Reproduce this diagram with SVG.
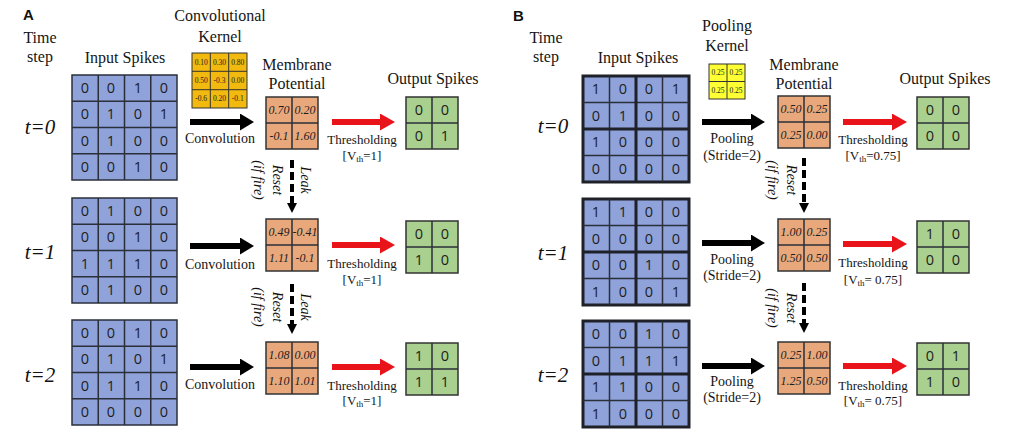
<svg xmlns="http://www.w3.org/2000/svg" width="1011" height="437" viewBox="0 0 1011 437">
<style>
.lbl{font-family:"Liberation Serif","Times New Roman","DejaVu Serif","Noto Serif",serif;font-size:16px;text-anchor:middle;fill:#151515}
.sm{font-size:14px}
.th{font-size:13px}
.hd{font-family:"Liberation Sans",Arial,sans-serif;font-weight:bold;font-size:15px;fill:#111}
.tl{font-family:"Liberation Serif","Times New Roman","DejaVu Serif","Noto Serif",serif;font-style:italic;font-size:21px;text-anchor:middle;fill:#111}
.rot{font-family:"Liberation Serif","Times New Roman","DejaVu Serif","Noto Serif",serif;font-style:italic;font-size:14px;text-anchor:middle;fill:#111}
.dig{font-family:"Open Sans","DejaVu Sans",sans-serif;font-size:14.5px;text-anchor:middle;fill:#1e1e1e}
.mv{font-family:"Liberation Serif","Times New Roman","DejaVu Serif","Noto Serif",serif;font-style:italic;font-size:12px;text-anchor:middle;fill:#1e1e1e}
.kv{font-family:"Liberation Serif","Times New Roman","DejaVu Serif","Noto Serif",serif;font-size:7.5px;text-anchor:middle;fill:#1e1e1e}
.inp{fill:#8fa3da;stroke:#2a2f3a;stroke-width:1.5}
.inpB{fill:#8fa3da;stroke:#1e2128;stroke-width:3}
.mem{fill:#e8a87c;stroke:#333;stroke-width:1.5}
.out{fill:#a9d08e;stroke:#333;stroke-width:1.5}
.kA{fill:#f2b90f;stroke:#333;stroke-width:1}
.kB{fill:#ffff33;stroke:#333;stroke-width:1}
.gl{fill:none;stroke:#2a2f3a;stroke-width:1.5}
.glt{fill:none;stroke:#333;stroke-width:1}
.glk{fill:none;stroke:#1e2128;stroke-width:3}
.blk{stroke:#000;stroke-width:6;fill:none}
.red{stroke:#e8141a;stroke-width:6;fill:none}
.dash{stroke:#000;stroke-width:4;stroke-dasharray:8 4;fill:none}
</style>
<defs>
<marker id="hb" markerUnits="userSpaceOnUse" markerWidth="15" markerHeight="18" refX="0" refY="8.5" orient="auto"><path d="M0,0 L14,8.5 L0,17 Z" fill="#000"/></marker>
<marker id="hr" markerUnits="userSpaceOnUse" markerWidth="16" markerHeight="18" refX="0" refY="8.5" orient="auto"><path d="M0,0 L15,8.5 L0,17 Z" fill="#e8141a"/></marker>
<marker id="hd" markerUnits="userSpaceOnUse" markerWidth="11" markerHeight="11" refX="0" refY="5" orient="auto"><path d="M0,0 L10,5 L0,10 Z" fill="#000"/></marker>
</defs>
<rect width="1011" height="437" fill="#fff"/>

<!-- Panel A labels -->
<g id="labelsA">
<text class="hd" x="23" y="20">A</text>
<text class="lbl" x="40" y="43">Time</text>
<text class="lbl" x="40" y="62">step</text>
<text class="lbl" x="125" y="63">Input Spikes</text>
<text class="lbl" x="220" y="21">Convolutional</text>
<text class="lbl" x="220" y="42">Kernel</text>
<text class="lbl" x="297" y="70">Membrane</text>
<text class="lbl" x="297" y="89">Potential</text>
<text class="lbl" x="433" y="84">Output Spikes</text>
<text class="tl" x="40" y="134">t=0</text>
<text class="tl" x="40" y="259">t=1</text>
<text class="tl" x="40" y="382">t=2</text>
</g>

<g id="kernelA">
<rect class="kA" x="192" y="53" width="55" height="55"/>
<path class="glt" d="M210.3,53V108M228.7,53V108M192,71.3H247M192,89.7H247"/>
<text class="kv" x="201.2" y="64.7">0.10</text><text class="kv" x="219.5" y="64.7">0.30</text><text class="kv" x="237.8" y="64.7">0.80</text>
<text class="kv" x="201.2" y="83">0.50</text><text class="kv" x="219.5" y="83">-0.3</text><text class="kv" x="237.8" y="83">0.00</text>
<text class="kv" x="201.2" y="101.3">-0.6</text><text class="kv" x="219.5" y="101.3">0.20</text><text class="kv" x="237.8" y="101.3">-0.1</text>
</g>

<!-- Panel A inputs -->
<g id="inputA0">
<rect class="inp" x="72" y="75" width="105" height="105"/>
<path class="gl" d="M98.25,75V180M124.5,75V180M150.75,75V180M72,101.25H177M72,127.5H177M72,153.75H177"/>
<text class="dig" x="85" y="93">0</text><text class="dig" x="111" y="93">0</text><text class="dig" x="138" y="93">1</text><text class="dig" x="164" y="93">0</text>
<text class="dig" x="85" y="119">0</text><text class="dig" x="111" y="119">1</text><text class="dig" x="138" y="119">0</text><text class="dig" x="164" y="119">1</text>
<text class="dig" x="85" y="146">0</text><text class="dig" x="111" y="146">1</text><text class="dig" x="138" y="146">0</text><text class="dig" x="164" y="146">0</text>
<text class="dig" x="85" y="172">0</text><text class="dig" x="111" y="172">0</text><text class="dig" x="138" y="172">1</text><text class="dig" x="164" y="172">0</text>
</g>
<g id="inputA1">
<rect class="inp" x="72" y="198" width="105" height="105"/>
<path class="gl" d="M98.25,198V303M124.5,198V303M150.75,198V303M72,224.25H177M72,250.5H177M72,276.75H177"/>
<text class="dig" x="85" y="216">0</text><text class="dig" x="111" y="216">1</text><text class="dig" x="138" y="216">0</text><text class="dig" x="164" y="216">0</text>
<text class="dig" x="85" y="242">0</text><text class="dig" x="111" y="242">0</text><text class="dig" x="138" y="242">1</text><text class="dig" x="164" y="242">0</text>
<text class="dig" x="85" y="269">1</text><text class="dig" x="111" y="269">1</text><text class="dig" x="138" y="269">1</text><text class="dig" x="164" y="269">0</text>
<text class="dig" x="85" y="295">0</text><text class="dig" x="111" y="295">1</text><text class="dig" x="138" y="295">0</text><text class="dig" x="164" y="295">0</text>
</g>
<g id="inputA2">
<rect class="inp" x="72" y="320" width="105" height="105"/>
<path class="gl" d="M98.25,320V425M124.5,320V425M150.75,320V425M72,346.25H177M72,372.5H177M72,398.75H177"/>
<text class="dig" x="85" y="338">0</text><text class="dig" x="111" y="338">0</text><text class="dig" x="138" y="338">1</text><text class="dig" x="164" y="338">0</text>
<text class="dig" x="85" y="364">0</text><text class="dig" x="111" y="364">1</text><text class="dig" x="138" y="364">0</text><text class="dig" x="164" y="364">1</text>
<text class="dig" x="85" y="391">0</text><text class="dig" x="111" y="391">1</text><text class="dig" x="138" y="391">1</text><text class="dig" x="164" y="391">0</text>
<text class="dig" x="85" y="417">0</text><text class="dig" x="111" y="417">0</text><text class="dig" x="138" y="417">0</text><text class="dig" x="164" y="417">0</text>
</g>

<!-- Panel A membrane -->
<g id="memA0">
<rect class="mem" x="266" y="97" width="52" height="52"/>
<path class="gl" d="M292,97V149M266,123H318"/>
<text class="mv" x="279" y="114">0.70</text><text class="mv" x="305" y="114">0.20</text>
<text class="mv" x="279" y="140">-0.1</text><text class="mv" x="305" y="140">1.60</text>
</g>
<g id="memA1">
<rect class="mem" x="266" y="219" width="52" height="52"/>
<path class="gl" d="M292,219V271M266,245H318"/>
<text class="mv" x="279" y="236">0.49</text><text class="mv" x="305" y="236">-0.41</text>
<text class="mv" x="279" y="262">1.11</text><text class="mv" x="305" y="262">-0.1</text>
</g>
<g id="memA2">
<rect class="mem" x="266" y="342" width="52" height="52"/>
<path class="gl" d="M292,342V394M266,368H318"/>
<text class="mv" x="279" y="359">1.08</text><text class="mv" x="305" y="359">0.00</text>
<text class="mv" x="279" y="385">1.10</text><text class="mv" x="305" y="385">1.01</text>
</g>

<!-- Panel A output -->
<g id="outA0">
<rect class="out" x="406" y="97" width="52" height="52"/>
<path class="gl" d="M432,97V149M406,123H458"/>
<text class="dig" x="419" y="115">0</text><text class="dig" x="445" y="115">0</text>
<text class="dig" x="419" y="141">0</text><text class="dig" x="445" y="141">1</text>
</g>
<g id="outA1">
<rect class="out" x="406" y="221" width="52" height="52"/>
<path class="gl" d="M432,221V273M406,247H458"/>
<text class="dig" x="419" y="239">0</text><text class="dig" x="445" y="239">0</text>
<text class="dig" x="419" y="265">1</text><text class="dig" x="445" y="265">0</text>
</g>
<g id="outA2">
<rect class="out" x="406" y="343" width="52" height="52"/>
<path class="gl" d="M432,343V395M406,369H458"/>
<text class="dig" x="419" y="361">1</text><text class="dig" x="445" y="361">0</text>
<text class="dig" x="419" y="387">1</text><text class="dig" x="445" y="387">1</text>
</g>

<!-- Panel B labels -->
<g id="labelsB">
<text class="hd" x="513" y="21">B</text>
<text class="lbl" x="546" y="43">Time</text>
<text class="lbl" x="546" y="62">step</text>
<text class="lbl" x="638" y="63">Input Spikes</text>
<text class="lbl" x="727" y="31">Pooling</text>
<text class="lbl" x="727" y="51">Kernel</text>
<text class="lbl" x="804" y="70">Membrane</text>
<text class="lbl" x="804" y="89">Potential</text>
<text class="lbl" x="945" y="84">Output Spikes</text>
<text class="tl" x="553" y="133">t=0</text>
<text class="tl" x="553" y="260">t=1</text>
<text class="tl" x="553" y="382">t=2</text>
</g>

<g id="kernelB">
<rect class="kB" x="709" y="64" width="36" height="35"/>
<path class="glt" d="M727,64V99M709,81.5H745"/>
<text class="kv" x="718" y="75.3">0.25</text><text class="kv" x="736" y="75.3">0.25</text>
<text class="kv" x="718" y="92.8">0.25</text><text class="kv" x="736" y="92.8">0.25</text>
</g>

<!-- Panel B inputs -->
<g id="inputB0">
<rect class="inpB" x="583" y="76" width="106" height="106"/>
<path class="gl" d="M609.5,76V182M662.5,76V182M583,102.5H689M583,155.5H689"/>
<path class="glk" d="M636,76V182M583,129H689"/>
<text class="dig" x="596" y="94">1</text><text class="dig" x="623" y="94">0</text><text class="dig" x="649" y="94">0</text><text class="dig" x="676" y="94">1</text>
<text class="dig" x="596" y="121">0</text><text class="dig" x="623" y="121">1</text><text class="dig" x="649" y="121">0</text><text class="dig" x="676" y="121">0</text>
<text class="dig" x="596" y="147">1</text><text class="dig" x="623" y="147">0</text><text class="dig" x="649" y="147">0</text><text class="dig" x="676" y="147">0</text>
<text class="dig" x="596" y="174">0</text><text class="dig" x="623" y="174">0</text><text class="dig" x="649" y="174">0</text><text class="dig" x="676" y="174">0</text>
</g>
<g id="inputB1">
<rect class="inpB" x="583" y="199" width="106" height="106"/>
<path class="gl" d="M609.5,199V305M662.5,199V305M583,225.5H689M583,278.5H689"/>
<path class="glk" d="M636,199V305M583,252H689"/>
<text class="dig" x="596" y="217">1</text><text class="dig" x="623" y="217">1</text><text class="dig" x="649" y="217">0</text><text class="dig" x="676" y="217">0</text>
<text class="dig" x="596" y="244">0</text><text class="dig" x="623" y="244">0</text><text class="dig" x="649" y="244">0</text><text class="dig" x="676" y="244">0</text>
<text class="dig" x="596" y="270">0</text><text class="dig" x="623" y="270">0</text><text class="dig" x="649" y="270">1</text><text class="dig" x="676" y="270">0</text>
<text class="dig" x="596" y="297">1</text><text class="dig" x="623" y="297">0</text><text class="dig" x="649" y="297">0</text><text class="dig" x="676" y="297">1</text>
</g>
<g id="inputB2">
<rect class="inpB" x="583" y="321" width="106" height="106"/>
<path class="gl" d="M609.5,321V427M662.5,321V427M583,347.5H689M583,400.5H689"/>
<path class="glk" d="M636,321V427M583,374H689"/>
<text class="dig" x="596" y="339">0</text><text class="dig" x="623" y="339">0</text><text class="dig" x="649" y="339">1</text><text class="dig" x="676" y="339">0</text>
<text class="dig" x="596" y="366">0</text><text class="dig" x="623" y="366">1</text><text class="dig" x="649" y="366">1</text><text class="dig" x="676" y="366">1</text>
<text class="dig" x="596" y="392">1</text><text class="dig" x="623" y="392">1</text><text class="dig" x="649" y="392">0</text><text class="dig" x="676" y="392">0</text>
<text class="dig" x="596" y="419">1</text><text class="dig" x="623" y="419">0</text><text class="dig" x="649" y="419">0</text><text class="dig" x="676" y="419">0</text>
</g>

<!-- Panel B membrane -->
<g id="memB0">
<rect class="mem" x="778" y="96" width="52" height="52"/>
<path class="gl" d="M804,96V148M778,122H830"/>
<text class="mv" x="791" y="113">0.50</text><text class="mv" x="817" y="113">0.25</text>
<text class="mv" x="791" y="139">0.25</text><text class="mv" x="817" y="139">0.00</text>
</g>
<g id="memB1">
<rect class="mem" x="778" y="219" width="52" height="52"/>
<path class="gl" d="M804,219V271M778,245H830"/>
<text class="mv" x="791" y="236">1.00</text><text class="mv" x="817" y="236">0.25</text>
<text class="mv" x="791" y="262">0.50</text><text class="mv" x="817" y="262">0.50</text>
</g>
<g id="memB2">
<rect class="mem" x="778" y="342" width="52" height="52"/>
<path class="gl" d="M804,342V394M778,368H830"/>
<text class="mv" x="791" y="359">0.25</text><text class="mv" x="817" y="359">1.00</text>
<text class="mv" x="791" y="385">1.25</text><text class="mv" x="817" y="385">0.50</text>
</g>

<!-- Panel B output -->
<g id="outB0">
<rect class="out" x="917" y="97" width="52" height="52"/>
<path class="gl" d="M943,97V149M917,123H969"/>
<text class="dig" x="930" y="115">0</text><text class="dig" x="956" y="115">0</text>
<text class="dig" x="930" y="141">0</text><text class="dig" x="956" y="141">0</text>
</g>
<g id="outB1">
<rect class="out" x="917" y="221" width="52" height="52"/>
<path class="gl" d="M943,221V273M917,247H969"/>
<text class="dig" x="930" y="239">1</text><text class="dig" x="956" y="239">0</text>
<text class="dig" x="930" y="265">0</text><text class="dig" x="956" y="265">0</text>
</g>
<g id="outB2">
<rect class="out" x="917" y="343" width="52" height="52"/>
<path class="gl" d="M943,343V395M917,369H969"/>
<text class="dig" x="930" y="361">0</text><text class="dig" x="956" y="361">1</text>
<text class="dig" x="930" y="387">1</text><text class="dig" x="956" y="387">0</text>
</g>

<!-- Connectors -->
<g id="connectors">
<line class="blk" x1="190" y1="122" x2="240" y2="122" marker-end="url(#hb)"/>
<line class="blk" x1="190" y1="246" x2="240" y2="246" marker-end="url(#hb)"/>
<line class="blk" x1="190" y1="367" x2="240" y2="367" marker-end="url(#hb)"/>
<line class="red" x1="332" y1="122" x2="380" y2="122" marker-end="url(#hr)"/>
<line class="red" x1="332" y1="245" x2="380" y2="245" marker-end="url(#hr)"/>
<line class="red" x1="332" y1="367" x2="380" y2="367" marker-end="url(#hr)"/>
<line class="dash" x1="292" y1="160" x2="292" y2="203" marker-end="url(#hd)"/>
<line class="dash" x1="292" y1="284" x2="292" y2="324" marker-end="url(#hd)"/>
<line class="blk" x1="702" y1="122" x2="751" y2="122" marker-end="url(#hb)"/>
<line class="blk" x1="702" y1="243" x2="751" y2="243" marker-end="url(#hb)"/>
<line class="blk" x1="702" y1="366" x2="751" y2="366" marker-end="url(#hb)"/>
<line class="red" x1="843" y1="122" x2="892" y2="122" marker-end="url(#hr)"/>
<line class="red" x1="843" y1="244" x2="892" y2="244" marker-end="url(#hr)"/>
<line class="red" x1="843" y1="366" x2="892" y2="366" marker-end="url(#hr)"/>
<line class="dash" x1="804" y1="158" x2="804" y2="203" marker-end="url(#hd)"/>
<line class="dash" x1="804" y1="283" x2="804" y2="323" marker-end="url(#hd)"/>
</g>

<!-- Connector labels A -->
<g id="edgeLabelsA">
<text class="lbl sm" x="220" y="143">Convolution</text>
<text class="lbl sm" x="220" y="269">Convolution</text>
<text class="lbl sm" x="220" y="389">Convolution</text>
<text class="lbl th" x="362" y="144">Thresholding</text>
<text class="lbl th" x="362" y="160">[V<tspan font-size="9" dy="2">th</tspan><tspan dy="-2">=1]</tspan></text>
<text class="lbl th" x="362" y="268">Thresholding</text>
<text class="lbl th" x="362" y="284">[V<tspan font-size="9" dy="2">th</tspan><tspan dy="-2">=1]</tspan></text>
<text class="lbl th" x="362" y="390">Thresholding</text>
<text class="lbl th" x="362" y="405">[V<tspan font-size="9" dy="2">th</tspan><tspan dy="-2">=1]</tspan></text>
<text class="rot" transform="translate(301,180) rotate(90)">Leak</text>
<text class="rot" transform="translate(273,180) rotate(90)">Reset</text>
<text class="rot" transform="translate(254,180) rotate(90)">(if fire)</text>
<text class="rot" transform="translate(301,307) rotate(90)">Leak</text>
<text class="rot" transform="translate(273,307) rotate(90)">Reset</text>
<text class="rot" transform="translate(254,307) rotate(90)">(if fire)</text>
</g>

<!-- Connector labels B -->
<g id="edgeLabelsB">
<text class="lbl sm" x="732" y="143">Pooling</text>
<text class="lbl sm" x="732" y="160">(Stride=2)</text>
<text class="lbl sm" x="732" y="264">Pooling</text>
<text class="lbl sm" x="732" y="280">(Stride=2)</text>
<text class="lbl sm" x="732" y="386">Pooling</text>
<text class="lbl sm" x="732" y="402">(Stride=2)</text>
<text class="lbl th" x="873" y="144">Thresholding</text>
<text class="lbl th" x="873" y="160">[V<tspan font-size="9" dy="2">th</tspan><tspan dy="-2">=0.75]</tspan></text>
<text class="lbl th" x="873" y="267">Thresholding</text>
<text class="lbl th" x="873" y="284">[V<tspan font-size="9" dy="2">th</tspan><tspan dy="-2">= 0.75]</tspan></text>
<text class="lbl th" x="873" y="390">Thresholding</text>
<text class="lbl th" x="873" y="405">[V<tspan font-size="9" dy="2">th</tspan><tspan dy="-2">= 0.75]</tspan></text>
<text class="rot" transform="translate(787,180) rotate(90)">Reset</text>
<text class="rot" transform="translate(768,180) rotate(90)">(if fire)</text>
<text class="rot" transform="translate(787,308) rotate(90)">Reset</text>
<text class="rot" transform="translate(768,308) rotate(90)">(if fire)</text>
</g>
</svg>
